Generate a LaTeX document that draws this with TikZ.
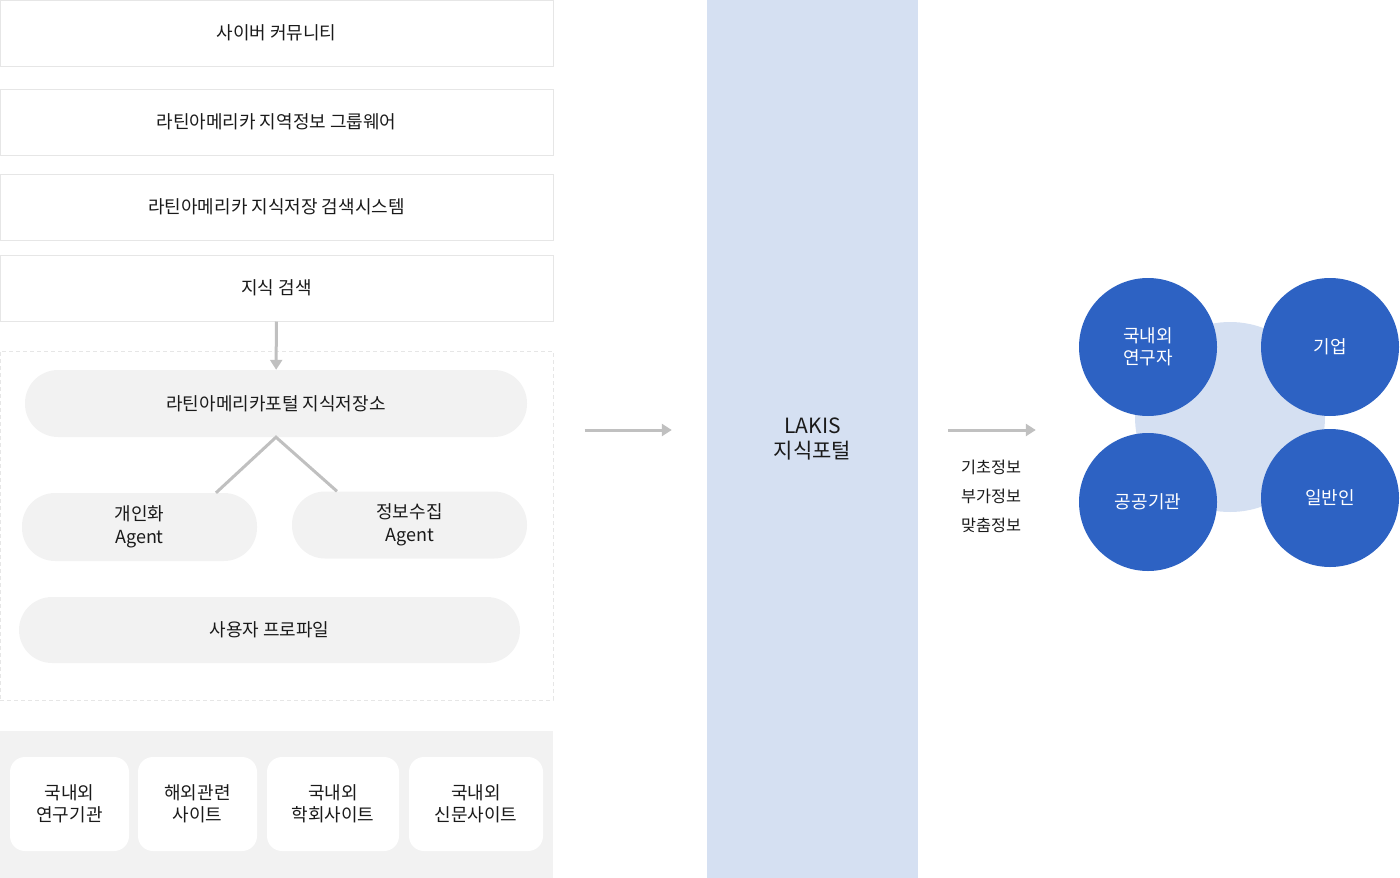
\documentclass[tikz,border=0pt]{standalone}
\usepackage{fontspec}
\setmainfont{Noto Sans CJK KR}
\usetikzlibrary{arrows.meta, positioning}
\definecolor{boxline}{HTML}{E6E6E6}
\definecolor{pillgray}{HTML}{F2F2F2}
\definecolor{linkgray}{HTML}{C0C0C0}
\definecolor{portalblue}{HTML}{D5E0F2}
\definecolor{userblue}{HTML}{2D62C3}
\definecolor{textdark}{HTML}{1A1A1A}

\begin{document}
\begin{tikzpicture}[x=1pt, y=-1pt,
  every node/.style={text=textdark, font=\fontsize{18pt}{22.5pt}\selectfont, align=center},
  layerbox/.style={draw=boxline, line width=1pt, fill=white, minimum width=553pt, minimum height=66pt},
  pill/.style={fill=pillgray, rounded corners=33pt, minimum height=67pt},
  sitebox/.style={fill=white, rounded corners=15pt, minimum height=94pt, font=\fontsize{18pt}{22pt}\selectfont},
  user/.style={circle, fill=userblue, minimum size=138pt, text=white, font=\fontsize{18pt}{21.5pt}\selectfont},
  tag/.style={font=\fontsize{16.3pt}{19pt}\selectfont},
  link/.style={draw=linkgray, line width=3pt},
  flow/.style={link, -{Triangle[length=10pt, width=12pt]}}]
  \useasboundingbox (0,0) rectangle (1400,878);

  % left column: layers
  \node[layerbox] (cyber)   at (276.5,33)  {사이버 커뮤니티};
  \node[layerbox] (groupware) at (276.5,122) {라틴아메리카 지역정보 그룹웨어};
  \node[layerbox] (searchsys) at (276.5,207) {라틴아메리카 지식저장 검색시스템};
  \node[layerbox] (search)  at (276.5,288) {지식 검색};

  % knowledge repository
  \node[draw=boxline, dash pattern=on 4pt off 3pt, line width=1pt, minimum width=553pt, minimum height=349pt] (repo) at (276.5,525.5) {};
  \node[pill, minimum width=502pt] (portal) at (276,403.5) {라틴아메리카포털 지식저장소};
  \node[pill, minimum width=235pt, minimum height=68pt] (agentA) at (139.5,527) {개인화\\Agent};
  \node[pill, minimum width=235pt] (agentB) at (409.5,525) {정보수집\\Agent};
  \node[pill, minimum width=501pt, minimum height=66pt] (profile) at (269.5,630) {사용자 프로파일};

  \draw[flow] (search) -- (portal);
  \draw[link] (agentA.north -| 216,0) -- (portal.south) -- (agentB.north -| 337,0);

  % sources
  \node[fill=pillgray, minimum width=553pt, minimum height=147pt] (sources) at (276.5,804.5) {};
  \node[sitebox, minimum width=119pt] (inst)  at (69.5,804)  {국내외\\연구기관};
  \node[sitebox, minimum width=119pt] (abroad) at (197.5,804) {해외관련\\사이트};
  \node[sitebox, minimum width=132pt] (society) at (333,804) {국내외\\학회사이트};
  \node[sitebox, minimum width=134pt] (news)  at (476,804)  {국내외\\신문사이트};

  % portal
  \node[fill=portalblue, minimum width=211pt, minimum height=878pt, font=\fontsize{21pt}{25.5pt}\selectfont] (lakis) at (812.5,439) {LAKIS\\지식포털};
  \draw[flow, shorten <=31pt, shorten >=35pt] (repo.east |- 0,430) -- (lakis.west |- 0,430);

  % users
  \node[circle, fill=portalblue, minimum size=190pt] (hub) at (1230,417) {};
  \node[user] (researcher) at (1148,347) {국내외\\연구자};
  \node[user] (company)    at (1330,347) {기업};
  \node[user] (public)     at (1148,502) {공공기관};
  \node[user] (people)     at (1330,498) {일반인};

  \draw[flow, shorten <=30pt, shorten >=43pt] (lakis.east |- 0,430) -- (researcher.west |- 0,430);
  \node[tag] (basic)  at (991,467) {기초정보};
  \node[tag] (extra)  at (991,496) {부가정보};
  \node[tag] (custom) at (991,525) {맞춤정보};
\end{tikzpicture}
\end{document}
